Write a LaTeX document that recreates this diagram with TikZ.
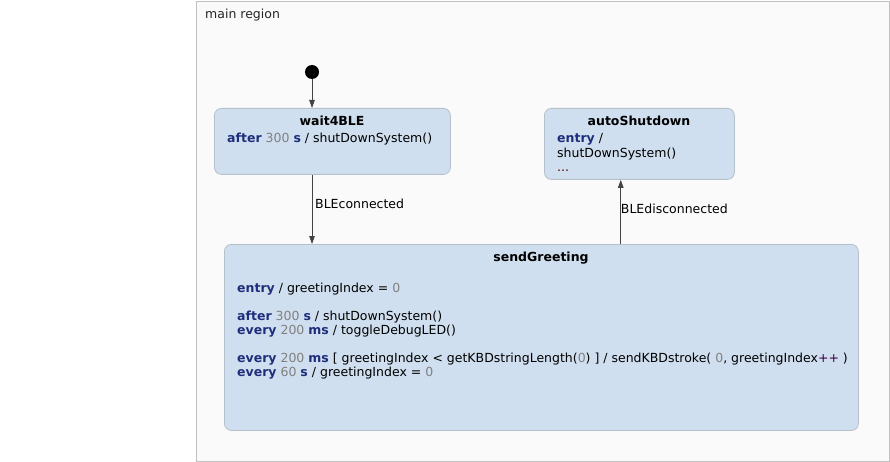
\documentclass[tikz,border=0pt]{standalone}
\usepackage{fontspec}
\setmainfont{DejaVu Sans}
\usetikzlibrary{arrows.meta,calc}
\definecolor{regfill}{HTML}{FAFAFA}
\definecolor{regdraw}{HTML}{C0C0C0}
\definecolor{stfill}{HTML}{D0DFEF}
\definecolor{stdraw}{HTML}{B6C0CA}
\definecolor{kwc}{HTML}{1F2E7A}
\definecolor{numc}{HTML}{808080}
\definecolor{dotc}{HTML}{500000}
\definecolor{plusc}{HTML}{400040}
\definecolor{linec}{HTML}{444444}
\newcommand{\KW}[1]{{\color{kwc}\bfseries #1}}
\newcommand{\NUM}[1]{{\color{numc}#1}}
\begin{document}
\begin{tikzpicture}[x=1pt,y=-1pt,
  txt/.style={inner sep=0pt,anchor=base west,font=\fontsize{12.5}{14}\selectfont},
  ttl/.style={inner sep=0pt,anchor=base,font=\fontsize{12.5}{14}\selectfont\bfseries},
  statebox/.style={draw=stdraw,fill=stfill,rounded corners=7pt,anchor=north west,inner sep=0pt,line width=0.8pt},
  conn/.style={draw=linec,line width=0.8pt,-{Triangle[width=5.5pt,length=8pt]}},
  lbl/.style={inner sep=0pt,anchor=base west,font=\fontsize{12.5}{14}\selectfont}]
\useasboundingbox (0,0) rectangle (890,462);
% region
\node[draw=regdraw,fill=regfill,anchor=north west,inner sep=0pt,minimum width=693pt,minimum height=460pt,line width=0.8pt] (region) at (195.5,1) {};
\node[txt,text=black!85] (regname) at (205,18.5) {main region};
% initial
\node[circle,fill=black,inner sep=0pt,minimum size=14pt] (init) at (312,72) {};
% states
\node[statebox,minimum width=236pt,minimum height=66pt] (wait) at (214,108) {};
\node[statebox,minimum width=190pt,minimum height=71pt] (auto) at (544,108) {};
\node[statebox,minimum width=634pt,minimum height=186pt] (send) at (224,244) {};
% wait4BLE texts
\node[ttl] (waitT) at (332,125.5) {wait4BLE};
\node[txt] (waitL1) at (227,142.5) {\KW{after} \NUM{300} \KW{s} / shutDownSystem()};
% autoShutdown texts
\node[ttl] (autoT) at (639,125.5) {autoShutdown};
\node[txt] (autoL1) at (557,142.5) {\KW{entry} /};
\node[txt] (autoL2) at (557,157.5) {shutDownSystem()};
\node[txt] (autoL3) at (557,171.5) {\color{dotc}...};
% sendGreeting texts
\node[ttl] (sendT) at (541,261.5) {sendGreeting};
\node[txt] (sendL1) at (237,292.5) {\KW{entry} / greetingIndex = \NUM{0}};
\node[txt] (sendL2) at (237,320.5) {\KW{after} \NUM{300} \KW{s} / shutDownSystem()};
\node[txt] (sendL3) at (237,334.5) {\KW{every} \NUM{200} \KW{ms} / toggleDebugLED()};
\node[txt] (sendL4) at (237,362.5) {\KW{every} \NUM{200} \KW{ms} [ greetingIndex < getKBDstringLength(\NUM{0}) ] / sendKBDstroke( \NUM{0}, greetingIndex{\color{plusc}++} )};
\node[txt] (sendL5) at (237,376.5) {\KW{every} \NUM{60} \KW{s} / greetingIndex = \NUM{0}};
% connectors
\draw[conn] (init) -- (init |- wait.north);
\coordinate (c1) at (wait.south -| init);
\draw[conn] (c1) -- (c1 |- send.north);
\node[lbl] (lblA) at ($(c1)+(3,33.5)$) {BLEconnected};
\coordinate (c2) at ($(send.north west)!0.625!(send.north east)$);
\draw[conn] (c2) -- (c2 |- auto.south);
\node[lbl] (lblB) at ($(c2)+(0,-30.5)$) {BLEdisconnected};
\end{tikzpicture}
\end{document}
